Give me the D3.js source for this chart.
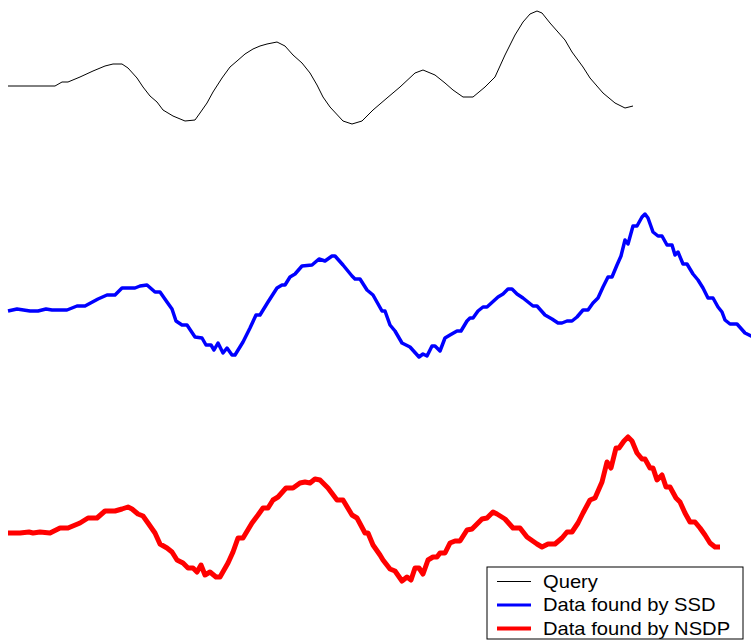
<!DOCTYPE html>
<html>
<head>
<meta charset="utf-8">
<script src="https://cdn.jsdelivr.net/npm/d3@7/dist/d3.min.js"></script>
<style>
  html, body { margin: 0; padding: 0; background: #fff; }
  svg { display: block; }
</style>
</head>
<body>
<svg id="chart" width="751" height="641"></svg>
<script>
// ---- Data: [time index, value] pairs, values relative to each series' start ----
const queryData = [[0,0],[18.8,0],[21.6,0.04],[24,0.04],[28.8,0.09],[34,0.15],[38.8,0.20],[42,0.22],[45.6,0.22],[48,0.18],[51.6,0.08],[54,-0.01],[56.8,-0.10],[59.6,-0.16],[62,-0.24],[66,-0.30],[70.8,-0.35],[74.8,-0.34],[76.8,-0.27],[79.6,-0.17],[82,-0.06],[85.6,0.08],[88.8,0.19],[91.6,0.25],[94.8,0.32],[98,0.37],[100.8,0.40],[103.6,0.42],[107.6,0.44],[110.8,0.40],[114,0.31],[117.6,0.23],[120.8,0.13],[123.6,0.01],[126,-0.11],[128.8,-0.21],[134,-0.35],[137.6,-0.38],[141.6,-0.35],[146,-0.24],[151.6,-0.12],[156.8,-0.01],[162.8,0.13],[166,0.16],[170.8,0.11],[174.8,0.03],[178,-0.04],[182,-0.11],[186,-0.11],[190.8,-0.01],[194.8,0.09],[198.8,0.31],[202.8,0.51],[206,0.64],[208.8,0.72],[211.6,0.75],[213.6,0.73],[216.8,0.63],[222.8,0.46],[225.6,0.34],[230,0.19],[232.8,0.08],[238,-0.07],[242.8,-0.17],[246.8,-0.22],[250,-0.20]];

const ssdData = [[0,0],[3.6,0.02],[8.8,0],[12,0],[15.2,0.02],[17.6,0.01],[23.6,0.01],[27.6,0.05],[30.8,0.05],[36,0.12],[39.6,0.16],[42.8,0.16],[45.6,0.23],[50.8,0.23],[52.8,0.25],[55.6,0.26],[58.8,0.19],[60.8,0.19],[63.6,0.09],[65.6,0.02],[67.2,-0.10],[69.6,-0.14],[71.6,-0.14],[74.8,-0.26],[77.6,-0.27],[79.2,-0.34],[81.2,-0.34],[82.4,-0.39],[84,-0.32],[86,-0.42],[87.6,-0.37],[89.6,-0.44],[90.8,-0.44],[94,-0.31],[96.8,-0.17],[99.2,-0.04],[100.8,-0.04],[104,0.09],[107.6,0.23],[109.6,0.26],[110.8,0.26],[112.8,0.34],[114.8,0.37],[117.6,0.45],[121.6,0.46],[124.4,0.52],[126.8,0.50],[129.6,0.55],[130.8,0.55],[134,0.46],[137.6,0.35],[138.8,0.32],[140.8,0.32],[143.6,0.21],[146,0.16],[149.6,0],[150.8,0],[152.8,-0.14],[154.8,-0.20],[157.6,-0.32],[160.8,-0.36],[164.4,-0.46],[166,-0.43],[167.6,-0.45],[169.6,-0.35],[170.8,-0.35],[172.8,-0.40],[174.8,-0.27],[176.8,-0.24],[179.6,-0.20],[181.2,-0.20],[183.6,-0.10],[184.8,-0.07],[186,-0.07],[188,0],[190,0.04],[191.6,0.04],[196,0.14],[198,0.17],[200,0.22],[201.6,0.22],[203.6,0.17],[206,0.13],[210,0.05],[211.6,0.05],[214.8,-0.04],[217.6,-0.08],[220,-0.12],[221.6,-0.12],[223.6,-0.10],[225.6,-0.10],[227.6,-0.06],[230,0.01],[232,0.01],[234,0.08],[236,0.13],[238,0.24],[240,0.34],[241.6,0.34],[243.6,0.46],[245.2,0.55],[246.8,0.71],[248,0.67],[250,0.85],[251.6,0.85],[253.6,0.94],[254.8,0.97],[256,0.93],[258,0.79],[260,0.75],[261.6,0.75],[263.6,0.66],[265.6,0.66],[266.8,0.56],[268,0.59],[270,0.47],[271.6,0.47],[274,0.37],[276,0.31],[278,0.23],[280,0.13],[282,0.13],[284,0.04],[285.6,-0.01],[286.8,-0.09],[288.8,-0.13],[291.6,-0.13],[294.8,-0.22],[297.2,-0.25],[300,-0.27]];

const nsdpData = [[0,0],[4.8,0],[8.4,0.01],[10,0],[12.8,0.01],[16.8,0],[20.8,0.05],[24,0.05],[28.8,0.10],[32,0.15],[35.6,0.15],[38.8,0.22],[42.8,0.22],[45.6,0.24],[48,0.26],[49.6,0.24],[52,0.19],[54,0.17],[56,0.10],[58.8,0],[60.8,-0.11],[63.6,-0.15],[65.6,-0.19],[67.6,-0.27],[70,-0.30],[72,-0.35],[74,-0.35],[75.6,-0.39],[77.2,-0.32],[78.8,-0.42],[80.8,-0.39],[83.2,-0.44],[84.8,-0.44],[88,-0.30],[90,-0.19],[92,-0.05],[94,-0.05],[97.6,0.10],[100,0.18],[102,0.25],[104,0.25],[106,0.33],[108,0.36],[111.2,0.45],[114,0.45],[116.8,0.50],[118.8,0.51],[120.8,0.50],[122.8,0.54],[124.8,0.53],[128,0.45],[131.6,0.33],[134,0.33],[137.6,0.18],[139.6,0.15],[142.8,0],[144,0],[146,-0.12],[148.8,-0.22],[150,-0.27],[152.8,-0.36],[154.8,-0.38],[157.6,-0.48],[159.6,-0.44],[161.2,-0.47],[162.8,-0.35],[164.4,-0.35],[166,-0.41],[168,-0.27],[170,-0.24],[171.6,-0.24],[172.8,-0.20],[174.8,-0.20],[176.8,-0.10],[178.8,-0.08],[180.8,-0.08],[183.6,0.03],[185.6,0.04],[189.6,0.14],[191.6,0.15],[194,0.21],[195.6,0.19],[198.8,0.14],[202,0.05],[204.8,0.05],[207.6,-0.04],[211.6,-0.11],[213.6,-0.14],[216,-0.11],[218.8,-0.11],[221.6,-0.05],[223.6,0.01],[225.6,0.01],[228,0.10],[230,0.20],[232.8,0.33],[234.8,0.35],[237.6,0.51],[239.6,0.71],[241.2,0.65],[243.2,0.85],[244.4,0.85],[246.4,0.92],[248,0.96],[249.6,0.92],[251.6,0.80],[253.6,0.74],[254.8,0.74],[256.8,0.65],[258,0.65],[259.6,0.53],[261.6,0.58],[263.2,0.46],[264.8,0.46],[267.2,0.35],[268.8,0.31],[270.8,0.20],[272.8,0.11],[274.8,0.11],[276.8,0.05],[278.8,-0.02],[280.8,-0.10],[282.8,-0.14],[284.8,-0.14]];

const seriesNames = ["Query", "Data found by SSD", "Data found by NSDP"];
const seriesOffsets = [-0.86, -3.11, -5.33];
const seriesColors = ["#000000", "#0000ff", "#ff0000"];
const seriesWidths = [1, 3.5, 5];
const legendWidths = [1, 3, 4];

// ---- Drawing ----
const svg = d3.select("#chart");
const W = 751, H = 641;

const x = d3.scaleLinear().domain([0, 300]).range([8, 758]);
const y = d3.scaleLinear().domain([0, -6.41]).range([0, 641]);

const allData = [queryData, ssdData, nsdpData];

svg.append("defs").append("clipPath").attr("id", "clip")
  .append("rect").attr("x", 0).attr("y", 0).attr("width", W).attr("height", H);

const plot = svg.append("g").attr("clip-path", "url(#clip)");

allData.forEach((data, i) => {
  const line = d3.line()
    .x(d => x(d[0]))
    .y(d => y(seriesOffsets[i] + d[1]));
  plot.append("path")
    .datum(data)
    .attr("fill", "none")
    .attr("stroke", seriesColors[i])
    .attr("stroke-width", seriesWidths[i])
    .attr("stroke-linejoin", "round")
    .attr("d", line);
});

// ---- Legend ----
const legend = svg.append("g").attr("transform", "translate(487,567)");
legend.append("rect")
  .attr("x", 0).attr("y", 0).attr("width", 256).attr("height", 72)
  .attr("fill", "#fff").attr("stroke", "#000").attr("stroke-width", 1);

seriesNames.forEach((name, i) => {
  const cy = 14.5 + i * 23.5;
  legend.append("line")
    .attr("x1", 10).attr("x2", 44)
    .attr("y1", cy).attr("y2", cy)
    .attr("stroke", seriesColors[i])
    .attr("stroke-width", legendWidths[i]);
  legend.append("text")
    .attr("transform", `translate(56,${cy}) scale(1.12,1)`)
    .attr("dy", "0.35em")
    .attr("font-family", "'Liberation Sans', Arial, sans-serif")
    .attr("font-size", 18)
    .attr("fill", "#000")
    .text(name);
});
</script>
</body>
</html>
